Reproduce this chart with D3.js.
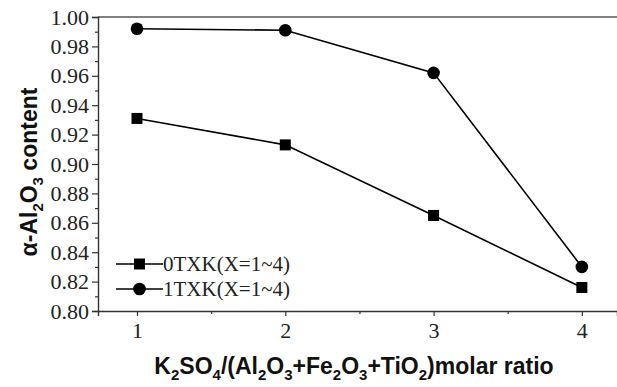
<!DOCTYPE html>
<html><head><meta charset="utf-8">
<script src="https://cdn.jsdelivr.net/npm/d3@7"></script>
<style>body{margin:0;background:#fff}svg{display:block}</style>
</head><body><svg id="c" width="617" height="387"></svg>
<script>
const xValues = [1, 2, 3, 4];
const series0 = [0.931, 0.913, 0.865, 0.816]; // 0TXK squares
const series1 = [0.992, 0.991, 0.962, 0.830]; // 1TXK circles
const yTicks = [0.80, 0.82, 0.84, 0.86, 0.88, 0.90, 0.92, 0.94, 0.96, 0.98, 1.00];
const xTicks = [1, 2, 3, 4];
const legendLabels = ["0TXK(X=1~4)", "1TXK(X=1~4)"];

const svg = d3.select("#c");
const x = d3.scaleLinear().domain([0.737, 4.237]).range([98, 617]);
const y = d3.scaleLinear().domain([0.80, 1.00]).range([311, 17]);
const serif = "'Liberation Serif','Times New Roman',serif";
const sans = "'Liberation Sans',Arial,sans-serif";

function styleAxis(g) {
  g.selectAll(".domain").attr("stroke", "#333").attr("stroke-width", 1.4);
  g.selectAll(".tick line").attr("stroke", "#333").attr("stroke-width", 1.2);
  g.selectAll("text").style("font-family", serif, "important").style("font-size", "22px", "important")
    .style("fill", "#222", "important");
}

// top frame line
svg.append("line").attr("x1", 98).attr("x2", 617).attr("y1", 17).attr("y2", 17)
  .attr("stroke", "#555").attr("stroke-width", 1.6);

// y axis
svg.append("g").attr("transform", "translate(98,0)")
  .call(d3.axisLeft(y).tickValues(yTicks).tickFormat(d3.format(".2f")).tickSize(6).tickPadding(3))
  .call(styleAxis);
svg.append("g").attr("transform", "translate(98,0)")
  .call(d3.axisLeft(y).tickValues(d3.range(0.81, 1.0, 0.02)).tickFormat("").tickSize(3))
  .call(styleAxis).select(".domain").remove();
// x axis
svg.append("g").attr("transform", "translate(0,311)")
  .call(d3.axisBottom(x).tickValues(xTicks).tickFormat(d3.format("d")).tickSize(5).tickPadding(6))
  .call(styleAxis);
svg.append("g").attr("transform", "translate(0,311)")
  .call(d3.axisBottom(x).tickValues([1.5, 2.5, 3.5]).tickFormat("").tickSize(3))
  .call(styleAxis).select(".domain").remove();

// lines
const line = d3.line().x((d, i) => x(xValues[i])).y(d => y(d));
[series0, series1].forEach(s => {
  svg.append("path").datum(s).attr("d", line).attr("fill", "none")
    .attr("stroke", "#000").attr("stroke-width", 1.6);
});
svg.selectAll(".sq").data(series0).join("rect")
  .attr("x", (d, i) => x(xValues[i]) - 5.5).attr("y", d => y(d) - 5.5)
  .attr("width", 11).attr("height", 11).attr("fill", "#000");
svg.selectAll(".ci").data(series1).join("circle")
  .attr("cx", (d, i) => x(xValues[i])).attr("cy", d => y(d)).attr("r", 6.3).attr("fill", "#000");

// legend
const lg = svg.append("g");
legendLabels.forEach((t, i) => {
  const yy = 264 + i * 25;
  lg.append("line").attr("x1", 116).attr("x2", 163).attr("y1", yy).attr("y2", yy)
    .attr("stroke", "#000").attr("stroke-width", 1.6);
  if (i === 0) lg.append("rect").attr("x", 134).attr("y", yy - 5.5).attr("width", 11).attr("height", 11);
  else lg.append("circle").attr("cx", 139.5).attr("cy", yy).attr("r", 6.3);
  lg.append("text").attr("x", 163).attr("y", yy + 7).style("font-family", serif)
    .style("font-size", "21px").attr("fill", "#222").text(t);
});

// axis titles
function rich(sel, parts) {
  parts.forEach(p => {
    const ts = sel.append("tspan").text(p[0]);
    if (p[1]) ts.style("font-size", "15px").attr("dy", 6);
    if (p[2]) ts.attr("dy", -6);
  });
}
const xt = svg.append("text").attr("x", 354).attr("y", 374).attr("text-anchor", "middle")
  .style("font-family", sans).style("font-weight", "bold").style("font-size", "23px").attr("fill", "#111");
const xParts = [["K"],["2",1],["SO",0,1],["4",1],["/(Al",0,1],["2",1],["O",0,1],["3",1],["+Fe",0,1],["2",1],["O",0,1],["3",1],["+TiO",0,1],["2",1],[")molar ratio",0,1]];
rich(xt, xParts);

const yt = svg.append("text").attr("transform", "translate(37,172) rotate(-90)").attr("text-anchor", "middle")
  .style("font-family", sans).style("font-weight", "bold").style("font-size", "23px").attr("fill", "#111");
rich(yt, [["α-Al"],["2",1],["O",0,1],["3",1],[" content",0,1]]);
</script></body></html>
